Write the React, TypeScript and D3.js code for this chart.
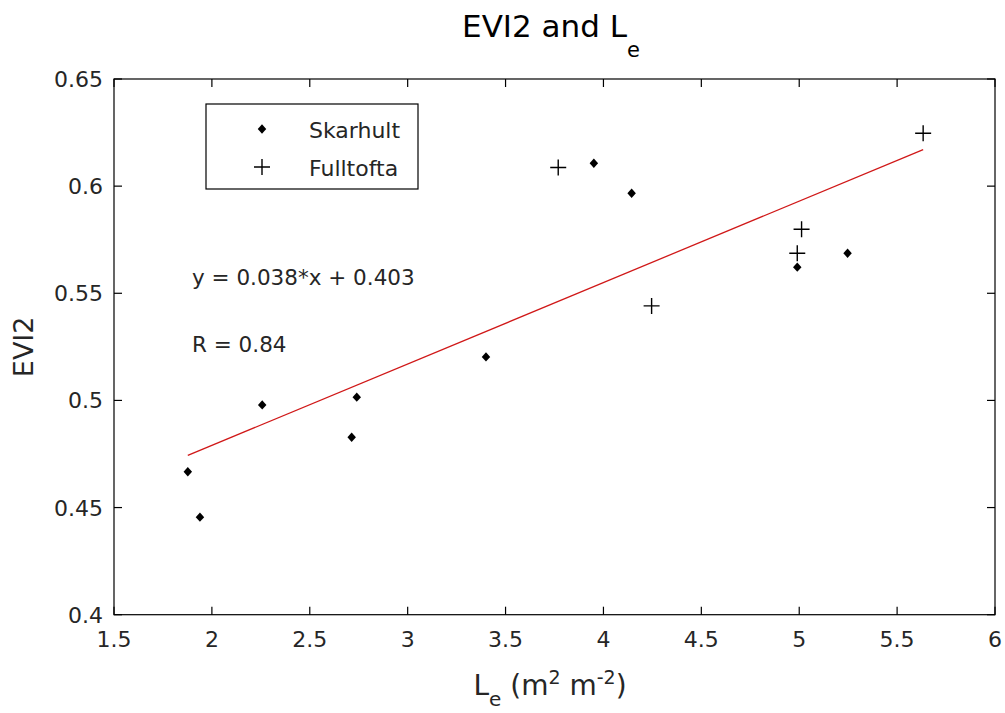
import React from "react";
import * as d3 from "d3";

// Skarhult site: effective leaf area index vs EVI2
const skarhultLe = [1.877, 1.939, 2.257, 2.74, 2.714, 3.4, 3.951, 4.144, 4.99, 5.247];
const skarhultEvi2 = [0.4667, 0.4455, 0.4979, 0.5015, 0.4828, 0.5203, 0.6107, 0.5967, 0.5622, 0.5687];

// Fulltofta site
const fulltoftaLe = [3.769, 4.246, 5.012, 4.99, 5.633];
const fulltoftaEvi2 = [0.6087, 0.5441, 0.5799, 0.5687, 0.6247];

// Linear fit shown in the annotation
const fitSlope = 0.038;
const fitIntercept = 0.403;
const fitR = 0.84;

const xTicks = [1.5, 2, 2.5, 3, 3.5, 4, 4.5, 5, 5.5, 6];
const yTicks = [0.4, 0.45, 0.5, 0.55, 0.6, 0.65];

const W = 1005;
const H = 713;
const left = 114;
const right = 995;
const top = 79;
const bottom = 614.7;
const FONT = "'DejaVu Sans', sans-serif";

// Nearly square diamond marker, like MATLAB's filled point style
const squareDiamond: d3.SymbolType = {
  draw(context, size) {
    const r = Math.sqrt(size / 2);
    context.moveTo(0, -r * 1.1);
    context.lineTo(r, 0);
    context.lineTo(0, r * 1.1);
    context.lineTo(-r, 0);
    context.closePath();
  },
};

export default function App() {
  const x = d3.scaleLinear().domain([1.5, 6]).range([left, right]);
  const y = d3.scaleLinear().domain([0.4, 0.65]).range([bottom, top]);

  const allLe = [...skarhultLe, ...fulltoftaLe];
  const xMin = d3.min(allLe) as number;
  const xMax = d3.max(allLe) as number;
  const fitLine = d3
    .line<number>()
    .x((d) => x(d))
    .y((d) => y(fitSlope * d + fitIntercept))([xMin, xMax]);

  const diamond = d3.symbol().type(squareDiamond).size(36)() as string;
  const tickLen = 8;
  const plusArm = 8;

  const plus = (cx: number, cy: number, key: string) => (
    <path
      key={key}
      d={`M${cx - plusArm},${cy}H${cx + plusArm}M${cx},${cy - plusArm}V${cy + plusArm}`}
      stroke="#000"
      strokeWidth={1.4}
      fill="none"
    />
  );

  return (
    <svg
      width={W}
      height={H}
      style={{ position: "absolute", left: 0, top: 0, display: "block", background: "#fff" }}
      fontFamily={FONT}
    >
      <rect x={0} y={0} width={W} height={H} fill="#fff" />

      {/* plot box */}
      <rect
        x={left}
        y={top}
        width={right - left}
        height={bottom - top}
        fill="#fff"
        stroke="#000"
        strokeWidth={1.2}
      />

      {/* x ticks (bottom and top, inward) */}
      {xTicks.map((t) => (
        <g key={`xt${t}`}>
          <line x1={x(t)} x2={x(t)} y1={bottom} y2={bottom - tickLen} stroke="#000" strokeWidth={1.2} />
          <line x1={x(t)} x2={x(t)} y1={top} y2={top + tickLen} stroke="#000" strokeWidth={1.2} />
          <text x={x(t)} y={bottom + 32} fontSize={22} textAnchor="middle" fill="#262626">
            {d3.format("~g")(t)}
          </text>
        </g>
      ))}

      {/* y ticks (left and right, inward) */}
      {yTicks.map((t) => (
        <g key={`yt${t}`}>
          <line x1={left} x2={left + tickLen} y1={y(t)} y2={y(t)} stroke="#000" strokeWidth={1.2} />
          <line x1={right} x2={right - tickLen} y1={y(t)} y2={y(t)} stroke="#000" strokeWidth={1.2} />
          <text x={left - 11} y={y(t) + 8} fontSize={22} textAnchor="end" fill="#262626">
            {d3.format("~g")(t)}
          </text>
        </g>
      ))}

      {/* regression line */}
      <path d={fitLine as string} stroke="#d01818" strokeWidth={1.3} fill="none" />

      {/* Skarhult points */}
      {skarhultLe.map((v, i) => (
        <path key={`s${i}`} d={diamond} transform={`translate(${x(v)},${y(skarhultEvi2[i])})`} fill="#000" />
      ))}

      {/* Fulltofta points */}
      {fulltoftaLe.map((v, i) => plus(x(v), y(fulltoftaEvi2[i]), `f${i}`))}

      {/* annotations */}
      <text x={192} y={285} fontSize={21.5} fill="#262626">
        {`y = ${fitSlope}*x + ${fitIntercept}`}
      </text>
      <text x={192} y={352} fontSize={21.5} fill="#262626">
        {`R = ${fitR}`}
      </text>

      {/* legend */}
      <rect x={206} y={104} width={212} height={85} fill="#fff" stroke="#000" strokeWidth={1.2} />
      <path d={diamond} transform="translate(262,129)" fill="#000" />
      {plus(262, 167, "legplus")}
      <text x={309} y={138} fontSize={22} fill="#262626">Skarhult</text>
      <text x={309} y={176} fontSize={22} fill="#262626">Fulltofta</text>

      {/* title */}
      <text x={551} y={37} fontSize={31} textAnchor="middle" fill="#000">
        EVI2 and L
        <tspan fontSize={21} dy={20}>e</tspan>
      </text>

      {/* x label */}
      <text x={550} y={695} fontSize={28} textAnchor="middle" fill="#262626">
        L<tspan fontSize={20} dy={11}>e</tspan>
        <tspan dy={-11}> (m</tspan>
        <tspan fontSize={19} dy={-11}>2</tspan>
        <tspan dy={11}> m</tspan>
        <tspan fontSize={19} dy={-11}>-2</tspan>
        <tspan dy={11}>)</tspan>
      </text>

      {/* y label */}
      <text
        transform={`translate(33,${(top + bottom) / 2}) rotate(-90)`}
        fontSize={27}
        textAnchor="middle"
        fill="#262626"
      >
        EVI2
      </text>
    </svg>
  );
}
